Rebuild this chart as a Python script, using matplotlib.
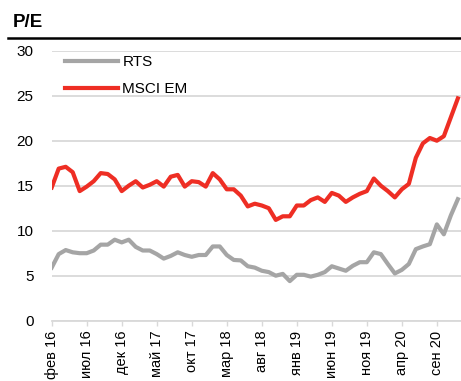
import numpy as np
import matplotlib
matplotlib.use('Agg')
import matplotlib.pyplot as plt
from matplotlib.lines import Line2D

plt.rcParams['font.family'] = ['Liberation Sans', 'DejaVu Sans']

# monthly, фев 16 .. дек 20
rts = [5.9, 7.4, 7.85, 7.6, 7.5, 7.5, 7.8, 8.45, 8.45, 9.0,
       8.7, 9.0, 8.2, 7.8, 7.8, 7.4, 6.9, 7.2, 7.6, 7.3,
       7.1, 7.3, 7.3, 8.25, 8.25, 7.3, 6.75, 6.7, 6.05, 5.9,
       5.55, 5.4, 5.0, 5.2, 4.4, 5.1, 5.1, 4.9, 5.1, 5.4,
       6.05, 5.8, 5.55, 6.1, 6.5, 6.5, 7.6, 7.4, 6.3, 5.25,
       5.65, 6.3, 7.95, 8.25, 8.5, 10.7, 9.6, 11.7, 13.5]
msci_em = [14.8, 16.9, 17.1, 16.5, 14.4, 14.9, 15.5, 16.4, 16.3, 15.7,
           14.4, 15.0, 15.5, 14.8, 15.1, 15.5, 14.9, 16.0, 16.2, 14.9,
           15.5, 15.4, 14.9, 16.4, 15.7, 14.6, 14.6, 13.9, 12.7, 13.0,
           12.8, 12.5, 11.2, 11.6, 11.6, 12.8, 12.8, 13.4, 13.7, 13.2,
           14.2, 13.9, 13.2, 13.7, 14.1, 14.4, 15.8, 15.0, 14.4, 13.7,
           14.6, 15.2, 18.1, 19.7, 20.3, 20.0, 20.5, 22.6, 24.7]
tick_labels = ['фев 16', 'июл 16', 'дек 16', 'май 17', 'окт 17', 'мар 18',
               'авг 18', 'янв 19', 'июн 19', 'ноя 19', 'апр 20', 'сен 20']
yticks = [0, 5, 10, 15, 20, 25, 30]

W, H = 461, 381
fig = plt.figure(figsize=(W / 100, H / 100), dpi=100)
ax = fig.add_axes([51.7 / W, 1 - 320.7 / H, 409.3 / W, 270 / H])

x = np.arange(len(rts))
ax.plot(x, rts, color='#A5A5A5', lw=3, label='RTS', solid_joinstyle='round')
ax.plot(x, msci_em, color='#EE2E24', lw=3, label='MSCI EM', solid_joinstyle='round')

ax.set_xlim(0, 58.45)
ax.set_ylim(0, 30)
ax.set_yticks(yticks)
ax.set_xticks(np.arange(0, len(rts), 5))
ax.set_xticklabels(tick_labels, rotation=90)
ax.grid(axis='y', color='#D9D9D9', lw=1.3)
ax.set_axisbelow(True)
for s in ['top', 'right', 'left']:
    ax.spines[s].set_visible(False)
ax.spines['bottom'].set_color('#D9D9D9')
ax.spines['bottom'].set_linewidth(1.3)
ax.tick_params(axis='y', length=0, pad=13, labelsize=11)
ax.tick_params(axis='x', length=3.6, width=1, color='#D9D9D9', pad=3.5, labelsize=10.5)

ax.legend(loc='upper left', bbox_to_anchor=(65 / W, 1 - 55 / H),
          bbox_transform=fig.transFigure, frameon=False, fontsize=11,
          handlelength=3.5, handletextpad=0.25, labelspacing=0.85,
          borderpad=0, borderaxespad=0)

fig.add_artist(Line2D([8 / W, 1], [1 - 37.7 / H] * 2, color='black', lw=1.8,
                      transform=fig.transFigure))
fig.text(12.7 / W, 1 - 26.7 / H, 'P/E', fontsize=13.5, fontweight='bold',
         va='baseline', ha='left')

fig.savefig('out.png', dpi=100)
